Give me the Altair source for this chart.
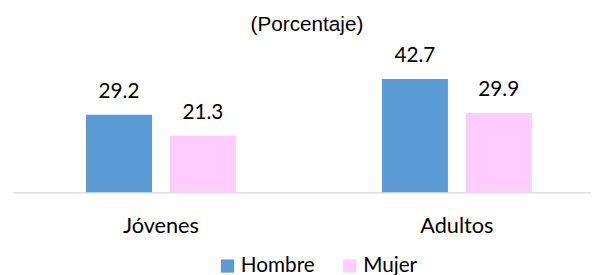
import altair as alt
import pandas as pd

categorias = ["Jóvenes", "Adultos"]
series = ["Hombre", "Mujer"]
colores = ["#5B9BD5", "#FFCCFF"]

grupos = ["Jóvenes", "Jóvenes", "Adultos", "Adultos"]
sexo = ["Hombre", "Mujer", "Hombre", "Mujer"]
valores = [29.2, 21.3, 42.7, 29.9]

df = pd.DataFrame({"grupo": grupos, "sexo": sexo, "valor": valores})

base = alt.Chart(df).encode(
    x=alt.X(
        "grupo:N",
        sort=categorias,
        scale=alt.Scale(paddingInner=0.45, paddingOuter=0.2017, align=0.5579),
        axis=alt.Axis(
            title=None,
            labelAngle=0,
            ticks=False,
            domainColor="#D9D9D9",
            domainWidth=1.2,
            labelFont="Lato",
            labelFontSize=22,
            labelColor="#000000",
            labelBaseline="alphabetic",
            labelPadding=41,
        ),
    ),
    xOffset=alt.XOffset(
        "sexo:N",
        sort=series,
        scale=alt.Scale(paddingInner=0.212, paddingOuter=0.0766),
    ),
)

bars = base.mark_bar().encode(
    y=alt.Y("valor:Q", scale=alt.Scale(domain=[0, 45]), axis=None),
    color=alt.Color(
        "sexo:N",
        sort=series,
        scale=alt.Scale(domain=series, range=colores),
        legend=alt.Legend(
            title=None,
            orient="none",
            legendX=207,
            legendY=185,
            direction="horizontal",
            symbolType="square",
            symbolSize=180,
            symbolStrokeWidth=0,
            symbolOpacity=1,
            labelFont="Lato",
            labelFontSize=21,
            labelColor="#000000",
            labelOffset=3,
            columnPadding=25,
            padding=0,
        ),
    ),
)

labels = base.mark_text(
    baseline="alphabetic", dy=-17, font="Lato", fontSize=21, color="#000000"
).encode(
    y=alt.Y("valor:Q"),
    text=alt.Text("valor:Q", format=".1f"),
)

chart = (
    alt.layer(bars, labels)
    .properties(
        width=586,
        height=121,
        padding={"left": 5, "top": 64, "right": 0, "bottom": 82},
        autosize=alt.AutoSizeParams(type="none"),
        title=alt.Title(
            "(Porcentaje)",
            font="Liberation Sans",
            fontSize=21,
            fontWeight="normal",
            color="#000000",
            frame="group",
            anchor="middle",
            baseline="alphabetic",
            offset=0,
            dy=6,
            dx=5,
        ),
    )
    .configure_view(stroke=None)
)

chart.save("out.html", embed_options={"renderer": "svg", "actions": False})
